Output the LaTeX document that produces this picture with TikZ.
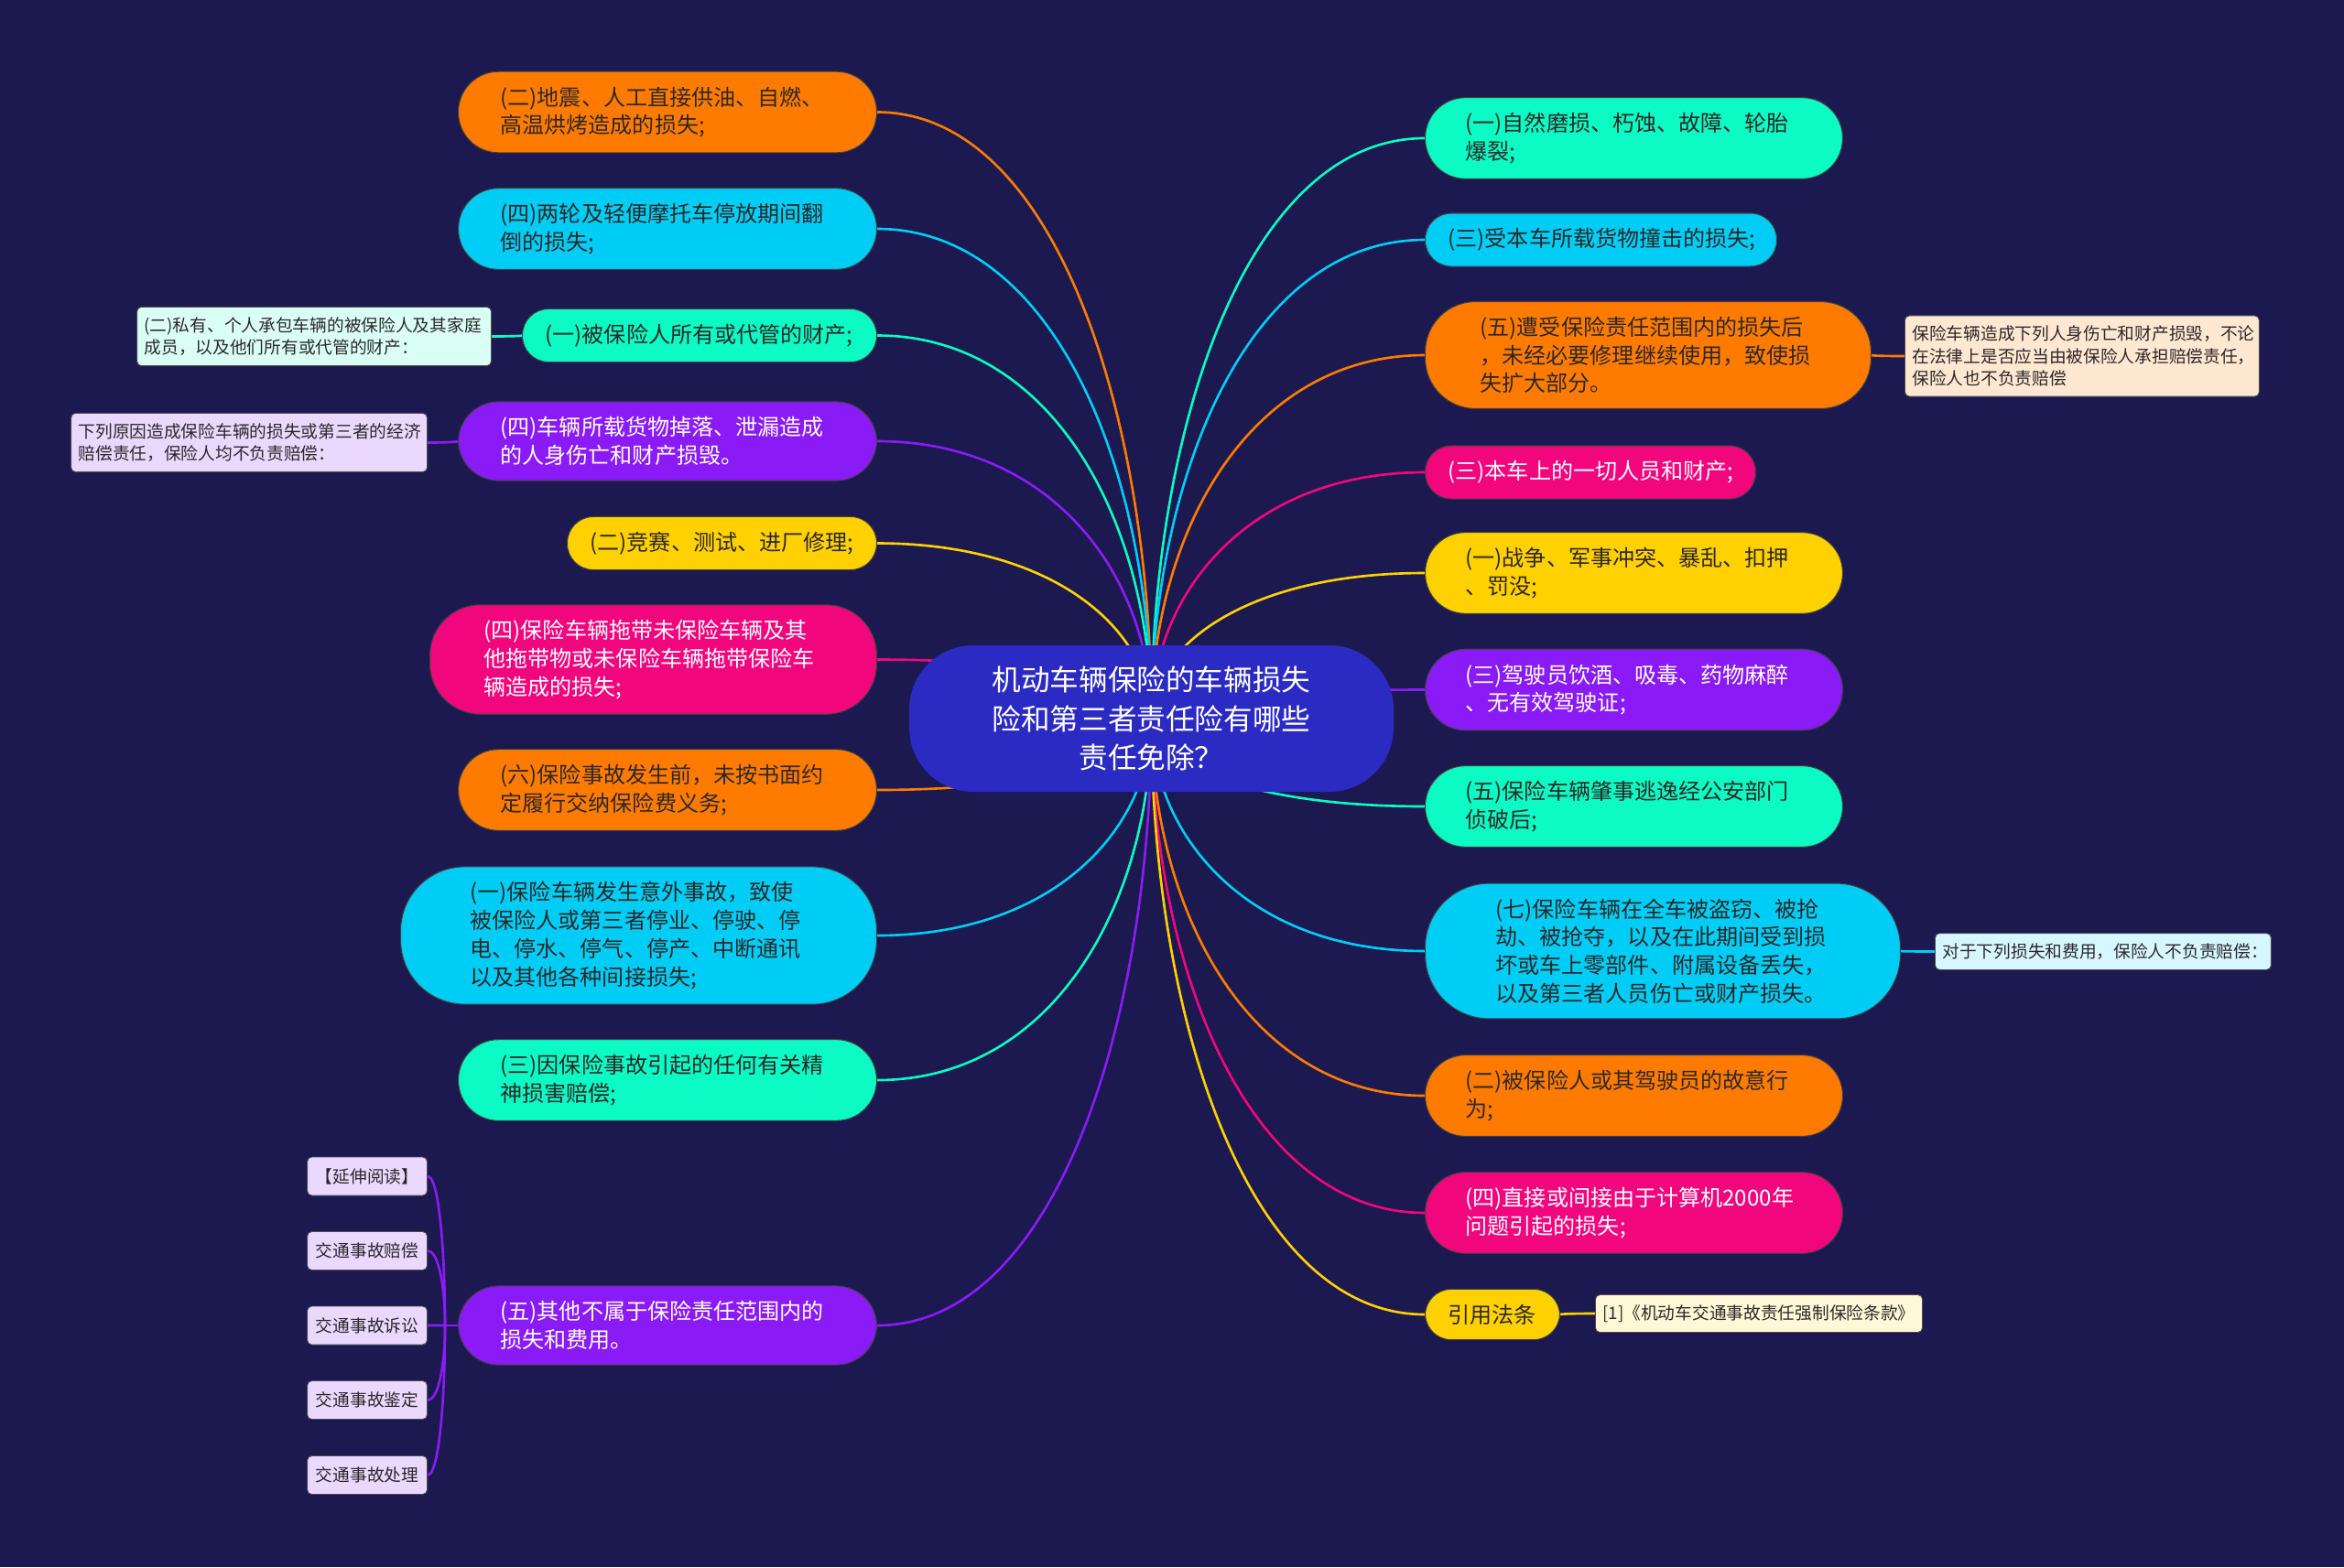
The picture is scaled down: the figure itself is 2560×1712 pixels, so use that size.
\documentclass[tikz,border=0pt]{standalone}
\usepackage{fontspec}
\setmainfont{Noto Sans CJK SC}
\usepackage{tikz}
\usetikzlibrary{calc,backgrounds}
\definecolor{mapnavy}{RGB}{27,25,80}
\definecolor{mapblue}{RGB}{43,43,196}
\definecolor{maporange}{RGB}{255,123,0}
\definecolor{mapcyan}{RGB}{0,205,245}
\definecolor{mapteal}{RGB}{12,250,195}
\definecolor{mappurple}{RGB}{138,27,247}
\definecolor{mappink}{RGB}{242,6,126}
\definecolor{mapyellow}{RGB}{255,209,0}
\definecolor{notemint}{RGB}{218,255,245}
\definecolor{notelilac}{RGB}{234,216,255}
\definecolor{notepeach}{RGB}{255,232,210}
\definecolor{noteice}{RGB}{214,247,255}
\definecolor{notecream}{RGB}{255,248,214}
\definecolor{inkdark}{RGB}{45,40,40}

\begin{document}
\begin{tikzpicture}[x=0.02cm, y=-0.02cm,
    topic/.style={rectangle, draw=black!75, line width=0.6pt, text=inkdark, align=left, font=\fontsize{13.7}{17.5}\selectfont, inner ysep=0.33cm, inner xsep=0.92cm, rounded corners=0.88cm},
    single/.style={inner xsep=0.5cm, rounded corners=0.57cm},
    whitetext/.style={text=white},
    note/.style={rectangle, draw=black!70, line width=0.5pt, text=inkdark, align=left, font=\fontsize{10.65}{13.9}\selectfont, inner xsep=0.16cm, inner ysep=0.22cm, rounded corners=0.1cm},
    twig/.style={to path={.. controls ($(\tikztostart)!0.5!(\tikztostart |- \tikztotarget)$) and ($(\tikztotarget)!0.65!(\tikztostart |- \tikztotarget)$) .. (\tikztotarget)}},
    link/.style={line width=1.5pt}
]
    \useasboundingbox (0,0) rectangle (2560,1712);

    \node[rectangle, fill=mapblue, text=white, align=center, font=\fontsize{18}{24}\selectfont, minimum width=10.58cm, minimum height=3.2cm, rounded corners=1.4cm] (root) at (1257.5,785) {机动车辆保险的车辆损失\\险和第三者责任险有哪些\\责任免除？};

    % left side
    \node[topic, fill=maporange, text width=7.3cm, anchor=east] (quake) at (958,122.5) {(二)地震、人工直接供油、自燃、\\高温烘烤造成的损失;};
    \node[topic, fill=mapcyan, text width=7.3cm, anchor=east] (moto) at (958,250) {(四)两轮及轻便摩托车停放期间翻\\倒的损失;};
    \node[topic, single, fill=mapteal, text width=6.74cm, anchor=east] (own) at (958,366.5) {(一)被保险人所有或代管的财产;};
    \node[topic, whitetext, fill=mappurple, text width=7.3cm, anchor=east] (cargo) at (958,482) {(四)车辆所载货物掉落、泄漏造成\\的人身伤亡和财产损毁。};
    \node[topic, single, fill=mapyellow, text width=5.76cm, anchor=east] (race) at (958,593.5) {(二)竞赛、测试、进厂修理;};
    \node[topic, whitetext, fill=mappink, text width=7.4cm, inner xsep=1.18cm, rounded corners=1.1cm, anchor=east] (tow) at (958,720.5) {(四)保险车辆拖带未保险车辆及其\\他拖带物或未保险车辆拖带保险车\\辆造成的损失;};
    \node[topic, fill=maporange, text width=7.3cm, anchor=east] (premium) at (958,863) {(六)保险事故发生前，未按书面约\\定履行交纳保险费义务;};
    \node[topic, fill=mapcyan, text width=7.36cm, inner xsep=1.52cm, rounded corners=1.4cm, anchor=east] (halt) at (958,1022) {(一)保险车辆发生意外事故，致使\\被保险人或第三者停业、停驶、停\\电、停水、停气、停产、中断通讯\\以及其他各种间接损失;};
    \node[topic, fill=mapteal, text width=7.3cm, anchor=east] (mental) at (958,1180) {(三)因保险事故引起的任何有关精\\神损害赔偿;};
    \node[topic, whitetext, fill=mappurple, text width=7.3cm, anchor=east] (other) at (958,1448) {(五)其他不属于保险责任范围内的\\损失和费用。};

    \node[note, fill=notemint, text width=7.42cm, anchor=east] (ownnote) at (537,367.5) {(二)私有、个人承包车辆的被保险人及其家庭\\成员，以及他们所有或代管的财产：};
    \node[note, fill=notelilac, text width=7.46cm, anchor=east] (cargonote) at (467,483.5) {下列原因造成保险车辆的损失或第三者的经济\\赔偿责任，保险人均不负责赔偿：};
    \node[note, fill=notelilac, align=center, minimum width=2.62cm, minimum height=0.84cm, anchor=east] (read) at (467,1285) {【延伸阅读】};
    \node[note, fill=notelilac, align=center, minimum width=2.62cm, minimum height=0.84cm, anchor=east] (comp) at (467,1366.5) {交通事故赔偿};
    \node[note, fill=notelilac, align=center, minimum width=2.62cm, minimum height=0.84cm, anchor=east] (suit) at (467,1448) {交通事故诉讼};
    \node[note, fill=notelilac, align=center, minimum width=2.62cm, minimum height=0.84cm, anchor=east] (ident) at (467,1529.5) {交通事故鉴定};
    \node[note, fill=notelilac, align=center, minimum width=2.62cm, minimum height=0.84cm, anchor=east] (handle) at (467,1611.5) {交通事故处理};
    \coordinate (fork) at ($(other.west)+(-14,0)$);

    % right side
    \node[topic, fill=mapteal, text width=7.36cm, inner xsep=0.88cm, anchor=west] (wear) at (1556,151) {(一)自然磨损、朽蚀、故障、轮胎\\爆裂;};
    \node[topic, single, fill=mapcyan, text width=6.68cm, anchor=west] (hit) at (1556,262) {(三)受本车所载货物撞击的损失;};
    \node[topic, fill=maporange, text width=7.34cm, inner xsep=1.2cm, rounded corners=1.1cm, anchor=west] (spread) at (1556,388) {(五)遭受保险责任范围内的损失后\\，未经必要修理继续使用，致使损\\失扩大部分。};
    \node[topic, single, whitetext, fill=mappink, text width=6.22cm, anchor=west] (aboard) at (1556,516) {(三)本车上的一切人员和财产;};
    \node[topic, fill=mapyellow, text width=7.36cm, inner xsep=0.88cm, anchor=west] (war) at (1556,626) {(一)战争、军事冲突、暴乱、扣押\\、罚没;};
    \node[topic, whitetext, fill=mappurple, text width=7.36cm, inner xsep=0.88cm, anchor=west] (drunk) at (1556,753.5) {(三)驾驶员饮酒、吸毒、药物麻醉\\、无有效驾驶证;};
    \node[topic, fill=mapteal, text width=7.36cm, inner xsep=0.88cm, anchor=west] (flee) at (1556,881) {(五)保险车辆肇事逃逸经公安部门\\侦破后;};
    \node[topic, fill=mapcyan, text width=7.3cm, inner xsep=1.54cm, rounded corners=1.4cm, anchor=west] (theft) at (1556,1039) {(七)保险车辆在全车被盗窃、被抢\\劫、被抢夺，以及在此期间受到损\\坏或车上零部件、附属设备丢失，\\以及第三者人员伤亡或财产损失。};
    \node[topic, fill=maporange, text width=7.36cm, inner xsep=0.88cm, anchor=west] (intent) at (1556,1197) {(二)被保险人或其驾驶员的故意行\\为;};
    \node[topic, whitetext, fill=mappink, text width=7.36cm, inner xsep=0.88cm, anchor=west] (ytwok) at (1556,1325) {(四)直接或间接由于计算机2000年\\问题引起的损失;};
    \node[topic, single, fill=mapyellow, text width=1.94cm, anchor=west] (law) at (1556,1436) {引用法条};

    \node[note, fill=notepeach, text width=7.42cm, anchor=west] (spreadnote) at (2080,389) {保险车辆造成下列人身伤亡和财产损毁，不论\\在法律上是否应当由被保险人承担赔偿责任，\\保险人也不负责赔偿};
    \node[note, fill=noteice, text width=7.02cm, anchor=west] (theftnote) at (2113,1039.5) {对于下列损失和费用，保险人不负责赔偿：};
    \node[note, fill=notecream, align=center, minimum width=7.08cm, minimum height=0.8cm, anchor=west] (lawnote) at (1742,1435) {[1]《机动车交通事故责任强制保险条款》};

    \begin{scope}[on background layer]
        \fill[mapnavy] (0,0) rectangle (2560,1712);
        \draw[link, maporange] (root.center) to[twig] (quake.east);
        \draw[link, mapcyan] (root.center) to[twig] (moto.east);
        \draw[link, mapteal] (root.center) to[twig] (own.east);
        \draw[link, mappurple] (root.center) to[twig] (cargo.east);
        \draw[link, mapyellow] (root.center) to[twig] (race.east);
        \draw[link, mappink] (root.center) to[twig] (tow.east);
        \draw[link, maporange] (root.center) to[twig] (premium.east);
        \draw[link, mapcyan] (root.center) to[twig] (halt.east);
        \draw[link, mapteal] (root.center) to[twig] (mental.east);
        \draw[link, mappurple] (root.center) to[twig] (other.east);
        \draw[link, mapteal] (root.center) to[twig] (wear.west);
        \draw[link, mapcyan] (root.center) to[twig] (hit.west);
        \draw[link, maporange] (root.center) to[twig] (spread.west);
        \draw[link, mappink] (root.center) to[twig] (aboard.west);
        \draw[link, mapyellow] (root.center) to[twig] (war.west);
        \draw[link, mappurple] (root.center) to[twig] (drunk.west);
        \draw[link, mapteal] (root.center) to[twig] (flee.west);
        \draw[link, mapcyan] (root.center) to[twig] (theft.west);
        \draw[link, maporange] (root.center) to[twig] (intent.west);
        \draw[link, mappink] (root.center) to[twig] (ytwok.west);
        \draw[link, mapyellow] (root.center) to[twig] (law.west);

        \draw[link, mapteal] (own.west) to[twig] (ownnote.east);
        \draw[link, mappurple] (cargo.west) to[twig] (cargonote.east);
        \draw[link, mappurple] (other.west) -- (fork);
        \draw[link, mappurple] (fork) to[twig] (read.east);
        \draw[link, mappurple] (fork) to[twig] (comp.east);
        \draw[link, mappurple] (fork) to[twig] (suit.east);
        \draw[link, mappurple] (fork) to[twig] (ident.east);
        \draw[link, mappurple] (fork) to[twig] (handle.east);
        \draw[link, maporange] (spread.east) to[twig] (spreadnote.west);
        \draw[link, mapcyan] (theft.east) to[twig] (theftnote.west);
        \draw[link, mapyellow] (law.east) to[twig] (lawnote.west);
    \end{scope}
\end{tikzpicture}
\end{document}
